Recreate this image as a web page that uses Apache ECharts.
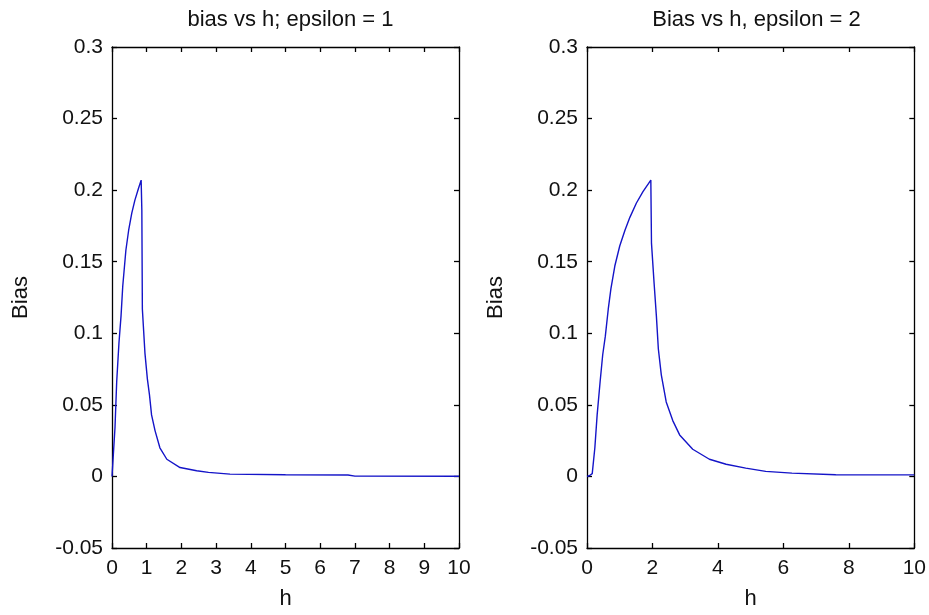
<!DOCTYPE html>
<html>
<head>
<meta charset="utf-8">
<script src="https://cdn.jsdelivr.net/npm/echarts@6/dist/echarts.min.js"></script>
<style>
html,body{margin:0;padding:0;background:#fff;}
#chart{width:929px;height:615px;}
</style>
</head>
<body>
<div id="chart"></div>
<script>
// Left panel: epsilon = 1
var h1 = [0, 0.02, 0.086, 0.135, 0.2, 0.26, 0.31, 0.40, 0.48, 0.57, 0.66, 0.76, 0.84, 0.86, 0.875, 0.95, 1.02, 1.08, 1.14, 1.24, 1.38, 1.58, 1.96, 2.44, 2.78, 3.4, 5.0, 6.8, 7.0, 10];
var bias1 = [0, 0.001, 0.034, 0.066, 0.093, 0.112, 0.133, 0.158, 0.172, 0.184, 0.193, 0.201, 0.207, 0.186, 0.117, 0.086, 0.068, 0.057, 0.043, 0.032, 0.020, 0.012, 0.0062, 0.004, 0.0028, 0.0016, 0.0012, 0.001, 0.0002, 0.0001];
// Right panel: epsilon = 2
var h2 = [0, 0.07, 0.16, 0.24, 0.31, 0.40, 0.48, 0.56, 0.65, 0.73, 0.85, 1.0, 1.16, 1.31, 1.51, 1.71, 1.95, 1.97, 2.05, 2.12, 2.18, 2.27, 2.42, 2.62, 2.83, 3.23, 3.74, 4.25, 4.85, 5.46, 6.26, 7.6, 10];
var bias2 = [0, 0.0005, 0.002, 0.020, 0.043, 0.066, 0.085, 0.098, 0.117, 0.131, 0.147, 0.161, 0.172, 0.181, 0.191, 0.199, 0.207, 0.163, 0.135, 0.112, 0.089, 0.071, 0.052, 0.039, 0.029, 0.019, 0.012, 0.0085, 0.0058, 0.0035, 0.0023, 0.0012, 0.0011];

var titles = ['bias vs h; epsilon = 1', 'Bias vs h, epsilon = 2'];
var xName = 'h';
var yName = 'Bias';
var xIntervals = [1, 2];
var yMin = -0.05, yMax = 0.3, yInterval = 0.05;
var xMin = 0, xMax = 10;

function pairs(xs, ys){ return xs.map(function(x,i){ return [x, ys[i]]; }); }

var FONT = 'Liberation Sans';
var lineStyle = {color:'#000', width:1.3};
var grids = [
  {left:112, top:47, width:347, height:504},
  {left:587, top:47, width:329, height:504}
];

var xAxes = [], yAxes = [], series = [], titleOpts = [];
grids.forEach(function(g, i){
  titleOpts.push({
    text: titles[i], left: g.left + g.width/2, top: 4, textAlign:'center',
    textStyle:{fontFamily:FONT, fontSize:22, fontWeight:'normal', color:'#111'}
  });
  xAxes.push({
    type:'value', gridIndex:i, min:xMin, max:xMax, interval:xIntervals[i], position:'bottom',
    name:xName, nameLocation:'middle', nameGap:40,
    nameTextStyle:{fontFamily:FONT, fontSize:22, color:'#111'},
    axisLine:{onZero:false, lineStyle:lineStyle}, axisTick:{inside:true, length:5, lineStyle:lineStyle},
    axisLabel:{fontFamily:FONT, fontSize:21, color:'#111', margin:10},
    splitLine:{show:false}
  });
  xAxes.push({
    type:'value', gridIndex:i, min:xMin, max:xMax, interval:xIntervals[i], position:'top',
    axisLine:{onZero:false, lineStyle:lineStyle}, axisTick:{inside:true, length:5, lineStyle:lineStyle},
    axisLabel:{show:false}, splitLine:{show:false}
  });
  yAxes.push({
    type:'value', gridIndex:i, min:yMin, max:yMax, interval:yInterval, position:'left',
    name:yName, nameLocation:'middle', nameGap:80,
    nameTextStyle:{fontFamily:FONT, fontSize:22, color:'#111'},
    axisLine:{show:true, onZero:false, lineStyle:lineStyle}, axisTick:{show:true, inside:true, length:5, lineStyle:lineStyle},
    axisLabel:{fontFamily:FONT, fontSize:21, color:'#111', margin:9},
    splitLine:{show:false}
  });
  yAxes.push({
    type:'value', gridIndex:i, min:yMin, max:yMax, interval:yInterval, position:'right',
    axisLine:{show:true, onZero:false, lineStyle:lineStyle}, axisTick:{show:true, inside:true, length:5, lineStyle:lineStyle},
    axisLabel:{show:false}, splitLine:{show:false}
  });
});

series.push({type:'line', xAxisIndex:0, yAxisIndex:0, data:pairs(h1,bias1), showSymbol:false, symbol:'none',
  lineStyle:{color:'#1414c8', width:1.4}, animation:false});
series.push({type:'line', xAxisIndex:2, yAxisIndex:2, data:pairs(h2,bias2), showSymbol:false, symbol:'none',
  lineStyle:{color:'#1414c8', width:1.4}, animation:false});

var chart = echarts.init(document.getElementById('chart'));
chart.setOption({
  backgroundColor:'#fff',
  animation:false,
  title:titleOpts,
  grid:grids,
  xAxis:xAxes,
  yAxis:yAxes,
  series:series
});
</script>
</body>
</html>
